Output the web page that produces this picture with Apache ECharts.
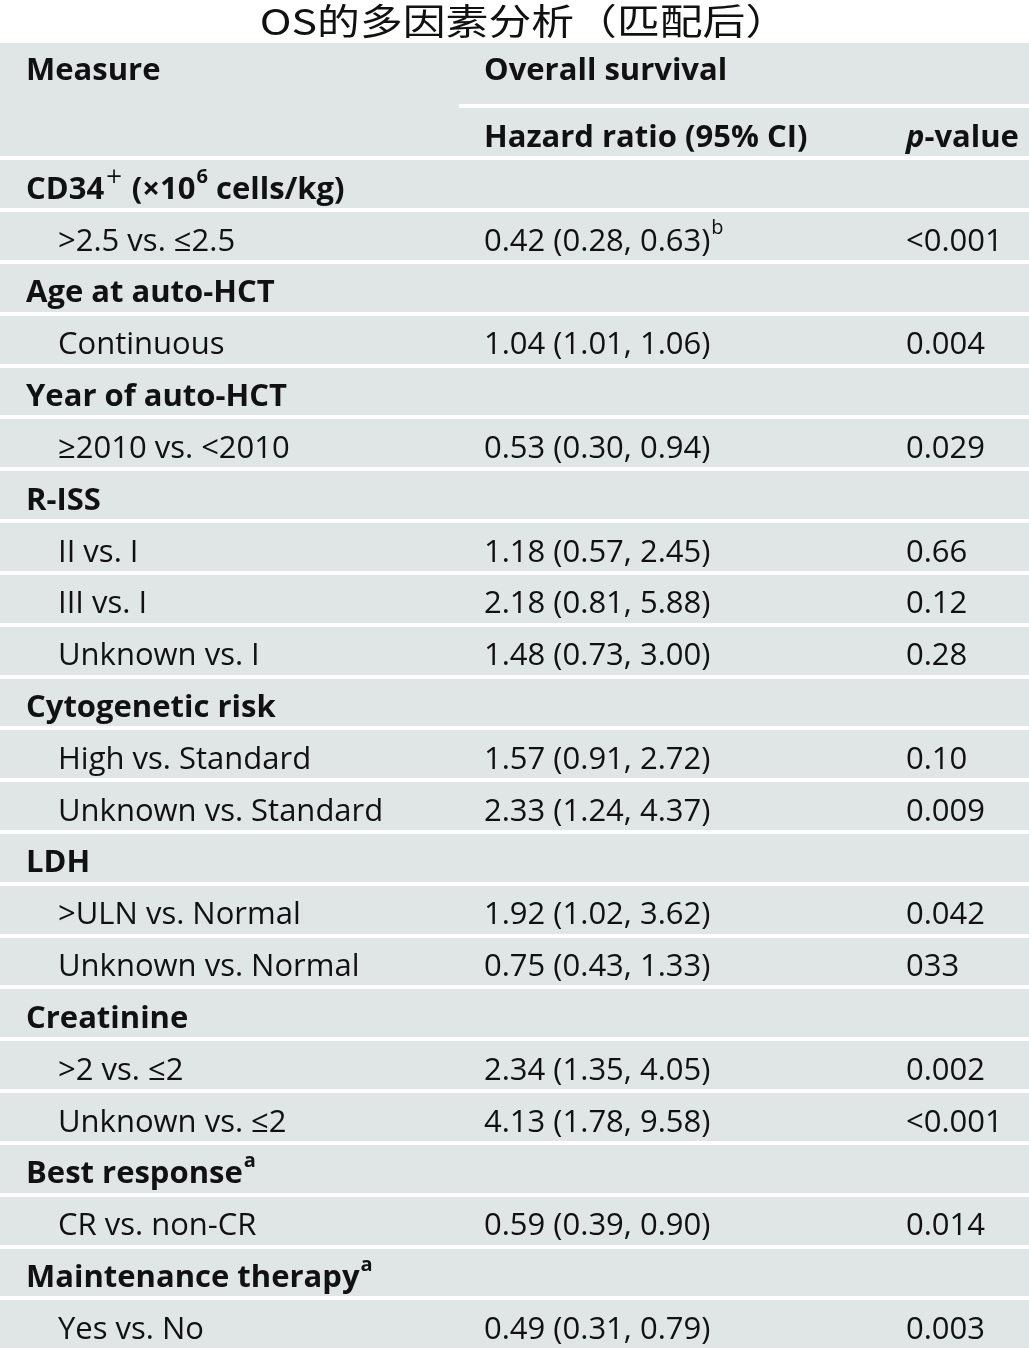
<!DOCTYPE html>
<html><head><meta charset="utf-8">
<script src="https://cdn.jsdelivr.net/npm/echarts@6/dist/echarts.min.js"></script>
<style>html,body{margin:0;padding:0;background:#fff}#c{width:1029px;height:1350px}</style>
</head><body><div id="c"></div>
<script>
const chartTitle = 'OS的多因素分析（匹配后）';
const headerMeasure = 'Measure';
const headerGroup = 'Overall survival';
const headerHR = 'Hazard ratio (95% CI)';
const headerP = '{i|p}-value';
const measures = ['CD34{thin|+} (×10{supb|6} cells/kg)', '>2.5 vs. ≤2.5', 'Age at auto-HCT', 'Continuous', 'Year of auto-HCT', '≥2010 vs. <2010', 'R-ISS', 'II vs. I', 'III vs. I', 'Unknown vs. I', 'Cytogenetic risk', 'High vs. Standard', 'Unknown vs. Standard', 'LDH', '>ULN vs. Normal', 'Unknown vs. Normal', 'Creatinine', '>2 vs. ≤2', 'Unknown vs. ≤2', 'Best response{supb|a}', 'CR vs. non-CR', 'Maintenance therapy{supb|a}', 'Yes vs. No'];
const isGroup = [1,0,1,0,1,0,1,0,0,0,1,0,0,1,0,0,1,0,0,1,0,1,0];
const hazardRatios = ['', '0.42 (0.28, 0.63){sup|b}', '', '1.04 (1.01, 1.06)', '', '0.53 (0.30, 0.94)', '', '1.18 (0.57, 2.45)', '2.18 (0.81, 5.88)', '1.48 (0.73, 3.00)', '', '1.57 (0.91, 2.72)', '2.33 (1.24, 4.37)', '', '1.92 (1.02, 3.62)', '0.75 (0.43, 1.33)', '', '2.34 (1.35, 4.05)', '4.13 (1.78, 9.58)', '', '0.59 (0.39, 0.90)', '', '0.49 (0.31, 0.79)'];
const pValues = ['', '<0.001', '', '0.004', '', '0.029', '', '0.66', '0.12', '0.28', '', '0.10', '0.009', '', '0.042', '033', '', '0.002', '<0.001', '', '0.014', '', '0.003'];

const FONT = '"Open Sans", "Noto Sans", sans-serif';
const FS = 31;
const LH = 46;
const INK = '#111111';
const BG = '#e0e6e6';
const COL_GROUP_X = 26, COL_SUB_X = 58, COL_HR_X = 484, COL_P_X = 906;
const richStyles = {
  sup: {fontSize: 20, fontFamily: FONT, fill: INK, verticalAlign: 'top', lineHeight: 22, padding: [0, 0, 0, 1]},
  supb: {fontSize: 20, fontFamily: FONT, fontWeight: 'bold', fill: INK, verticalAlign: 'top', lineHeight: 22, padding: [0, 0, 0, 1]},
  thin: {fontSize: 21, fontFamily: '"DejaVu Sans", sans-serif', fontWeight: 'normal', fill: INK, verticalAlign: 'top', lineHeight: 20, padding: [0, 1, 0, 1]},
  i: {fontStyle: 'italic', fontWeight: 'bold', fontSize: FS, fontFamily: FONT, fill: INK, lineHeight: LH}
};
const rowIdx = measures.map((_, i) => i);

const chart = echarts.init(document.getElementById('c'), null, {renderer: 'canvas'});
function txt(x, y, text, bold) {
  return {type: 'text', x: x, y: y, style: {text: text, fill: INK, fontFamily: FONT, fontSize: FS, lineHeight: LH, fontWeight: bold ? 'bold' : 'normal', verticalAlign: 'middle', align: 'left', rich: richStyles}};
}
chart.setOption({
  backgroundColor: '#ffffff',
  animation: false,
  grid: {left: 0, right: 0, top: 158, bottom: 0, show: true, backgroundColor: BG, borderWidth: 0},
  xAxis: {type: 'value', min: 0, max: 1029, show: false},
  yAxis: {type: 'category', data: rowIdx, inverse: true, axisLabel: {show: false}, axisTick: {show: false}, axisLine: {show: false},
    splitLine: {show: true, interval: 0, lineStyle: {color: '#ffffff', width: 4}}},
  graphic: [
    {type: 'rect', shape: {x: 0, y: 43, width: 1029, height: 115}, style: {fill: BG}, z: -1},
    {type: 'line', shape: {x1: 459, y1: 106, x2: 1029, y2: 106}, style: {stroke: '#ffffff', lineWidth: 4}},
    {type: 'text', x: 524, y: 21, scaleX: 1.19, style: {text: chartTitle, fill: INK, fontFamily: '"Noto Sans CJK SC", sans-serif', fontSize: 36, align: 'center', verticalAlign: 'middle'}},
    txt(COL_GROUP_X, 71, headerMeasure, true),
    txt(COL_HR_X, 71, headerGroup, true),
    txt(COL_HR_X, 138, headerHR, true),
    txt(COL_P_X, 138, headerP, true)
  ],
  series: [{
    type: 'custom',
    data: rowIdx.map(i => [0, i]),
    renderItem: function (params, api) {
      const i = api.value(1);
      const y = api.coord([0, i])[1] + 6;
      const children = [];
      children.push(txt(isGroup[i] ? COL_GROUP_X : COL_SUB_X, y, measures[i], !!isGroup[i]));
      if (hazardRatios[i]) children.push(txt(COL_HR_X, y, hazardRatios[i], false));
      if (pValues[i]) children.push(txt(COL_P_X, y, pValues[i], false));
      return {type: 'group', children: children};
    }
  }]
});
</script></body></html>
